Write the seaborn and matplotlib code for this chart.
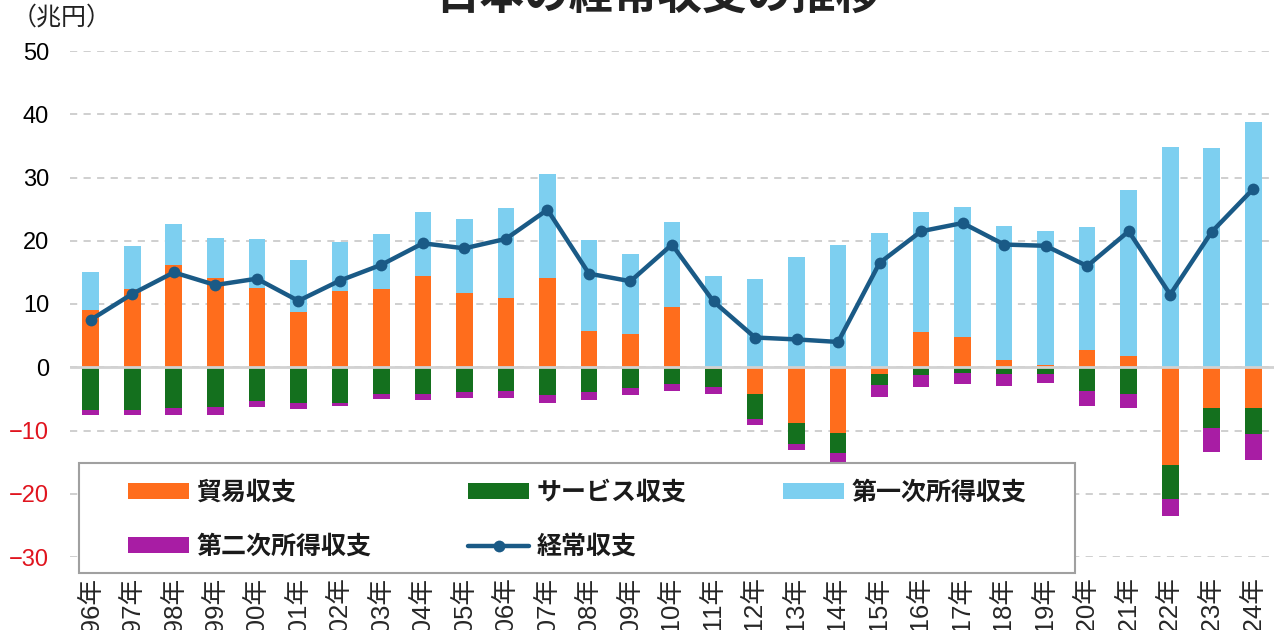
import numpy as np
import pandas as pd
import matplotlib
matplotlib.use("Agg")
import matplotlib.pyplot as plt
import seaborn as sns
from matplotlib.patches import Patch, Rectangle
from matplotlib.lines import Line2D

# ---------------- data (兆円) ----------------
years = list(range(1996, 2025))
tick_labels = [f"{y}年" for y in years]

trade = [9.0, 12.3, 16.1, 14.1, 12.6, 8.8, 12.1, 12.4, 14.4, 11.7,
         11.0, 14.1, 5.7, 5.3, 9.5, -0.3, -4.3, -8.8, -10.4, -1.0,
         5.5, 4.8, 1.2, 0.4, 2.7, 1.7, -15.5, -6.5, -6.5]
services = [-6.8, -6.7, -6.5, -6.3, -5.3, -5.6, -5.6, -4.2, -4.3, -3.9,
            -3.7, -4.4, -3.9, -3.3, -2.7, -2.9, -3.9, -3.4, -3.1, -1.8,
            -1.2, -0.9, -1.0, -1.1, -3.7, -4.3, -5.4, -3.1, -4.0]
primary = [6.0, 6.9, 6.5, 6.4, 7.7, 8.2, 7.7, 8.7, 10.2, 11.8,
           14.1, 16.4, 14.4, 12.6, 13.5, 14.5, 13.9, 17.5, 19.3, 21.2,
           19.1, 20.6, 21.2, 21.2, 19.4, 26.3, 34.9, 34.7, 38.8]
secondary = [-0.8, -0.9, -1.1, -1.3, -1.0, -1.0, -0.6, -0.8, -0.8, -0.9,
             -1.2, -1.2, -1.3, -1.1, -1.0, -1.0, -0.9, -0.9, -1.9, -1.9,
             -2.0, -1.8, -2.0, -1.4, -2.4, -2.2, -2.6, -3.8, -4.2]
current = [7.5, 11.6, 15.0, 13.0, 14.0, 10.5, 13.7, 16.2, 19.6, 18.8,
           20.3, 24.9, 14.8, 13.6, 19.4, 10.4, 4.7, 4.4, 4.0, 16.5,
           21.5, 22.8, 19.4, 19.2, 16.0, 21.5, 11.5, 21.4, 28.2]

series_names = ["貿易収支", "サービス収支", "第一次所得収支", "第二次所得収支", "経常収支"]
c_trade = "#FF6D1C"
c_serv = "#14701E"
c_prim = "#7DCFF0"
c_sec = "#A81DA4"
c_line = "#1A5A86"

# ---------------- stacking ----------------
t = np.array(trade)
s = np.array(services)
p = np.array(primary)
q = np.array(secondary)
trade_bottom = np.zeros_like(t)
prim_bottom = np.clip(t, 0, None)
serv_bottom = np.clip(t, None, 0)
sec_bottom = serv_bottom + s

# ---------------- figure ----------------
sns.set_theme(style="white")
plt.rcParams["font.family"] = ["Noto Sans CJK JP", "DejaVu Sans"]

fig = plt.figure(figsize=(12.8, 6.3), dpi=100)
ax = fig.add_axes([70 / 1280, 1 - 557 / 630, (1274 - 70) / 1280, (557 - 51) / 630])

bar_kw = dict(width=0.4, saturation=1, linewidth=0, ax=ax, zorder=2)
sns.barplot(x=tick_labels, y=t, bottom=trade_bottom, color=c_trade, **bar_kw)
sns.barplot(x=tick_labels, y=p, bottom=prim_bottom, color=c_prim, **bar_kw)
sns.barplot(x=tick_labels, y=s, bottom=serv_bottom, color=c_serv, **bar_kw)
sns.barplot(x=tick_labels, y=q, bottom=sec_bottom, color=c_sec, **bar_kw)

sns.lineplot(x=tick_labels, y=current, color=c_line, lw=3.2, marker="o",
             markersize=8.5, markeredgewidth=0, sort=False, ax=ax, zorder=4)

ax.axhline(0, color="#D2D2D2", lw=2.0, zorder=3)

ax.set_ylim(-30, 50)
ax.set_xlim(-0.5, len(years) - 0.5)
ax.set_yticks(np.arange(-30, 51, 10))
ax.yaxis.grid(True, linestyle=(0, (4, 3.5)), color="#CCCCCC", lw=1.3, zorder=0)
ax.xaxis.grid(False)
for sp in ax.spines.values():
    sp.set_visible(False)
ax.set_xlabel("")
ax.set_ylabel("")

ax.tick_params(axis="y", length=0, pad=15, labelsize=17)
ax.tick_params(axis="x", length=0, pad=14, labelsize=18.5, rotation=90)
for lab in ax.get_yticklabels():
    lab.set_family(["Liberation Sans", "DejaVu Sans"])
    try:
        v = float(lab.get_text().replace("−", "-"))
    except ValueError:
        v = 0
    lab.set_color("#E0141E" if v < 0 else "black")
for lab in ax.get_xticklabels():
    lab.set_family(["Liberation Sans", "Noto Sans CJK JP"])
    lab.set_va("top")

# title (cut off at the top as in the reference)
fig.text(658 / 1280, 1 + 3 / 630, "日本の経常収支の推移", ha="center", va="center",
         fontsize=32, fontweight="bold", color="#222222",
         family=["Noto Sans CJK JP", "DejaVu Sans"])
fig.text(12 / 1280, 1 - 5 / 630, "（兆円）", ha="left", va="top", fontsize=18,
         color="#222222", family=["Noto Sans CJK JP", "DejaVu Sans"])

# legend box
rect = Rectangle((79 / 1280, 1 - 573 / 630), (1075 - 79) / 1280, (573 - 463) / 630,
                 transform=fig.transFigure, facecolor="white", edgecolor="#A0A0A0",
                 lw=1.5, zorder=4)
fig.add_artist(rect)

handles = [
    Patch(facecolor=c_trade, edgecolor="none"),
    Patch(facecolor=c_sec, edgecolor="none"),
    Patch(facecolor=c_serv, edgecolor="none"),
    Line2D([0], [0], color=c_line, lw=3.2, marker="o", markersize=8.5, markeredgewidth=0),
    Patch(facecolor=c_prim, edgecolor="none"),
]
labels = [series_names[0], series_names[3], series_names[1], series_names[4], series_names[2]]
leg = fig.legend(handles, labels, ncol=3, loc="upper left",
                 bbox_to_anchor=(128 / 1280, 1 - 481 / 630), frameon=False,
                 borderpad=0, borderaxespad=0, handlelength=2.45, handleheight=0.6,
                 handletextpad=0.3, columnspacing=3.85, labelspacing=1.2,
                 prop=dict(family=["Noto Sans CJK JP", "DejaVu Sans"], size=18, weight="bold"))
leg.set_zorder(6)
for txt in leg.get_texts():
    txt.set_color("#1a1a1a")

fig.savefig("out.png", dpi=100)
